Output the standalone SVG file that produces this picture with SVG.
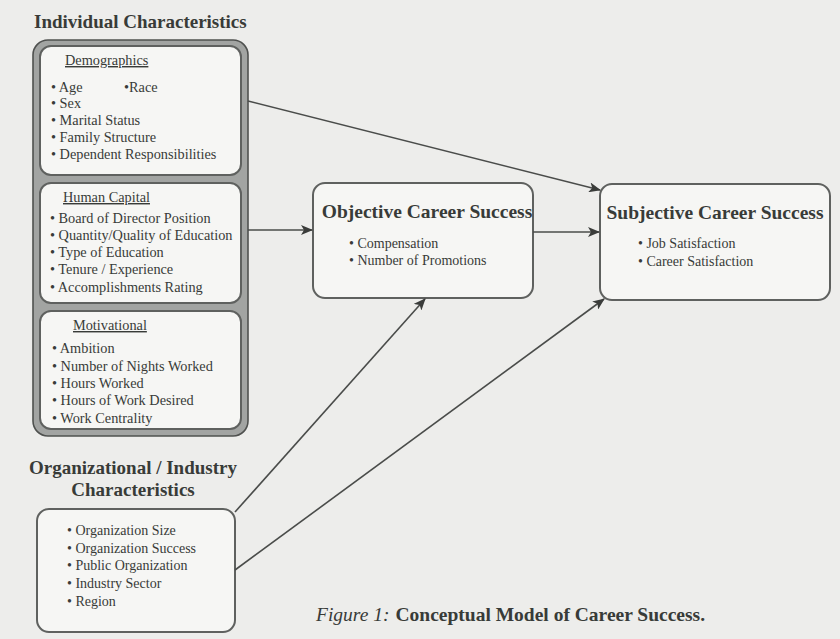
<svg xmlns="http://www.w3.org/2000/svg" width="840" height="639" viewBox="0 0 840 639">
  <style>
    text { font-family: "Liberation Serif", "Times New Roman", serif; fill: #383b38; }
    .title { font-weight: bold; font-size: 19px; }
    .head { font-weight: bold; font-size: 19.5px; }
    .sub { font-size: 14.3px; text-decoration: underline; }
    .item { font-size: 14.3px; }
    .sitem { font-size: 14px; }
    .box { fill: #f6f6f4; stroke: #5f615f; stroke-width: 2; }
    .frame { fill: #a2a4a2; stroke: #4f514f; stroke-width: 1.6; }
    .link { stroke: #4a4c4a; stroke-width: 1.6; fill: none; marker-end: url(#arrow); }
  </style>
  <defs>
    <marker id="arrow" viewBox="0 0 12 10" refX="11" refY="5" markerWidth="12" markerHeight="10" markerUnits="userSpaceOnUse" orient="auto">
      <path d="M0,0 L12,5 L0,10 L3,5 Z" fill="#3a3c3a"/>
    </marker>
  </defs>

  <rect width="840" height="639" fill="#ededeb"/>

  <!-- Individual characteristics group -->
  <g id="individual">
    <text class="title" x="34" y="28">Individual Characteristics</text>
    <rect class="frame" x="33" y="40" width="215" height="396" rx="15"/>
    <g id="demographics">
      <rect class="box" x="40" y="46" width="201" height="129" rx="11"/>
      <text class="sub" x="65" y="65">Demographics</text>
      <text class="item" x="51" y="92">• Age</text>
      <text class="item" x="124" y="92">•Race</text>
      <text class="item" x="51" y="108">• Sex</text>
      <text class="item" x="51" y="125">• Marital Status</text>
      <text class="item" x="51" y="142">• Family Structure</text>
      <text class="item" x="51" y="159">• Dependent Responsibilities</text>
    </g>
    <g id="human-capital">
      <rect class="box" x="40" y="183" width="201" height="120" rx="11"/>
      <text class="sub" x="63" y="202">Human Capital</text>
      <text class="item" x="50" y="223">• Board of Director Position</text>
      <text class="item" x="50" y="240">• Quantity/Quality of Education</text>
      <text class="item" x="50" y="257">• Type of Education</text>
      <text class="item" x="50" y="274">• Tenure / Experience</text>
      <text class="item" x="50" y="292">• Accomplishments Rating</text>
    </g>
    <g id="motivational">
      <rect class="box" x="40" y="311" width="201" height="118" rx="11"/>
      <text class="sub" x="73" y="330">Motivational</text>
      <text class="item" x="52" y="353">• Ambition</text>
      <text class="item" x="52" y="371">• Number of Nights Worked</text>
      <text class="item" x="52" y="388">• Hours Worked</text>
      <text class="item" x="52" y="405">• Hours of Work Desired</text>
      <text class="item" x="52" y="423">• Work Centrality</text>
    </g>
  </g>

  <!-- Organizational / industry characteristics -->
  <g id="organizational">
    <text class="title" x="133" y="474" text-anchor="middle">Organizational / Industry</text>
    <text class="title" x="133" y="496" text-anchor="middle">Characteristics</text>
    <rect class="box" x="37" y="509" width="198" height="123" rx="12"/>
    <text class="sitem" x="67" y="535">• Organization Size</text>
    <text class="sitem" x="67" y="553">• Organization Success</text>
    <text class="sitem" x="67" y="570">• Public Organization</text>
    <text class="sitem" x="67" y="588">• Industry Sector</text>
    <text class="sitem" x="67" y="606">• Region</text>
  </g>

  <!-- Outcomes -->
  <g id="objective">
    <rect class="box" x="313" y="183" width="220" height="115" rx="12"/>
    <text class="head" x="427" y="218" text-anchor="middle">Objective Career Success</text>
    <text class="sitem" x="349" y="248">• Compensation</text>
    <text class="sitem" x="349" y="265">• Number of Promotions</text>
  </g>
  <g id="subjective">
    <rect class="box" x="600" y="184" width="230" height="116" rx="12"/>
    <text class="head" x="715" y="219" text-anchor="middle">Subjective Career Success</text>
    <text class="sitem" x="638" y="248">• Job Satisfaction</text>
    <text class="sitem" x="638" y="266">• Career Satisfaction</text>
  </g>

  <!-- Connectors -->
  <g id="connectors">
    <line class="link" x1="248" y1="101" x2="600" y2="190"/>
    <line class="link" x1="248" y1="230" x2="312" y2="230"/>
    <line class="link" x1="533" y1="232" x2="599" y2="232"/>
    <line class="link" x1="235" y1="512" x2="425" y2="299"/>
    <line class="link" x1="235" y1="570" x2="604" y2="299"/>
  </g>

  <!-- Caption -->
  <text x="316" y="621" font-size="19.5"><tspan font-style="italic">Figure 1:</tspan><tspan font-weight="bold" dx="6">Conceptual Model of Career Success.</tspan></text>
</svg>
